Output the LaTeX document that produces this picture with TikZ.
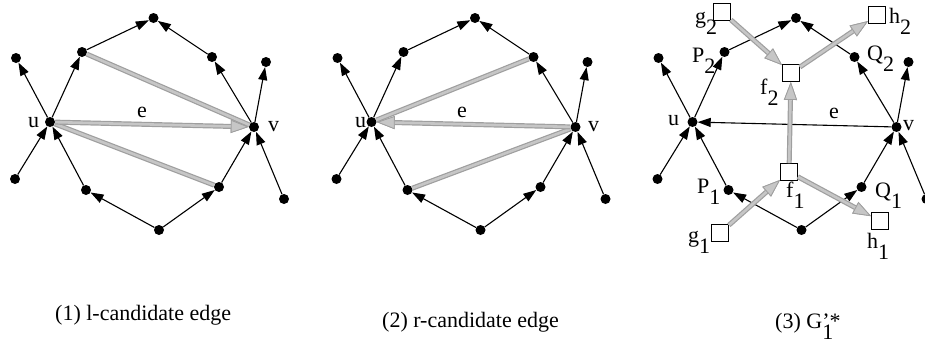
\documentclass[tikz,border=0pt]{standalone}
\usepackage{fontspec}
\setmainfont{Liberation Serif}
\usetikzlibrary{arrows.meta}
\tikzset{
 dot/.style={circle,fill=black,inner sep=0pt,minimum size=10pt},
 sq/.style={rectangle,draw=black,line width=0.8pt,fill=white,inner sep=0pt,minimum size=17pt},
 edge/.style={line width=1.1pt,-{Triangle[length=13pt,width=9pt]}},
 gline/.style={draw=gray!45,line width=2.6pt,preaction={draw=gray!75,line width=5pt}},
 garrow/.style={gline,-{Triangle[length=18pt,width=13pt,line width=0.8pt,color=gray!75,fill=gray!45]}},
 lab/.style={inner sep=0pt,anchor=base west,font=\fontsize{22}{26}\selectfont},
}
\newcommand{\lowsub}[1]{\raisebox{-11pt}{#1}}
\newcommand{\basegraph}[2]{%
 \begin{scope}[xshift=#2pt]
  \node[dot] (#1top) at (153.5,18) {};
  \node[dot] (#1a) at (82,52) {};
  \node[dot] (#1b) at (212,57) {};
  \node[dot] (#1lt) at (16,58) {};
  \node[dot] (#1rt) at (266,62) {};
  \node[dot] (#1u) at (50,122) {};
  \node[dot] (#1v) at (254,127) {};
  \node[dot] (#1lb) at (15,179) {};
  \node[dot] (#1c) at (86,190) {};
  \node[dot] (#1d) at (219,187) {};
  \node[dot] (#1rb) at (284,199) {};
  \node[dot] (#1bot) at (159,230) {};
 \end{scope}
 \draw[edge] (#1u) -- (#1lt);
 \draw[edge] (#1lb) -- (#1u);
 \draw[edge] (#1u) -- (#1a);
 \draw[edge] (#1a) -- (#1top);
 \draw[edge] (#1b) -- (#1top);
 \draw[edge] (#1v) -- (#1b);
 \draw[edge] (#1c) -- (#1u);
 \draw[edge] (#1bot) -- (#1c);
 \draw[edge] (#1bot) -- (#1d);
 \draw[edge] (#1d) -- (#1v);
 \draw[edge] (#1v) -- (#1rt);
 \draw[edge] (#1rb) -- (#1v);
}
\begin{document}
\begin{tikzpicture}[x=1pt,y=-1pt]
\useasboundingbox (0,0) rectangle (925,343);
% panel 1
\basegraph{A}{0}
\draw[gline] (Aa) -- (Av);
\draw[gline] (Au) -- (Ad);
\draw[garrow] (Au) -- (Av);
\node[lab] (Alu) at (28,127) {u};
\node[lab] (Ale) at (137,117) {e};
\node[lab] (Alv) at (268,131) {v};
% panel 2
\basegraph{B}{321.5}
\draw[gline] (Bb) -- (Bu);
\draw[gline] (Bv) -- (Bc);
\draw[garrow] (Bv) -- (Bu);
\node[lab] (Blu) at (355,127) {u};
\node[lab] (Ble) at (457,117) {e};
\node[lab] (Blv) at (588,131) {v};
% panel 3
\basegraph{C}{642.5}
\draw[edge] (Cv) -- (Cu);
\node[sq] (g2) at (722,12) {};
\node[sq] (h2) at (877,15) {};
\node[sq] (f2) at (791,73) {};
\node[sq] (f1) at (789,172) {};
\node[sq] (g1) at (720,233) {};
\node[sq] (h1) at (880,221) {};
\draw[garrow] (g2) -- (f2);
\draw[garrow] (f2) -- (h2);
\draw[garrow] (f1) -- (f2);
\draw[garrow] (g1) -- (f1);
\draw[garrow] (f1) -- (h1);
\node[lab] (Clu) at (668,125) {u};
\node[lab] (Cle) at (829,118) {e};
\node[lab] (Clv) at (903,130) {v};
\node[lab] (lg2) at (695,23) {g\lowsub{2}};
\node[lab] (lh2) at (889,23) {h\lowsub{2}};
\node[lab] (lP2) at (692,62) {P\lowsub{2}};
\node[lab] (lQ2) at (867,60) {Q\lowsub{2}};
\node[lab] (lf2) at (760,94) {f\lowsub{2}};
\node[lab] (lP1) at (697,193) {P\lowsub{1}};
\node[lab] (lf1) at (786,197) {f\lowsub{1}};
\node[lab] (lQ1) at (875,197) {Q\lowsub{1}};
\node[lab] (lg1) at (688,242) {g\lowsub{1}};
\node[lab] (lh1) at (867,248) {h\lowsub{1}};
% captions
\node[lab] (cap1) at (55,320) {(1) l-candidate edge};
\node[lab] (cap2) at (382,327) {(2) r-candidate edge};
\node[lab] (cap3) at (775,328) {(3) G\rlap{\raisebox{-11pt}{1}}’*};
\end{tikzpicture}
\end{document}
